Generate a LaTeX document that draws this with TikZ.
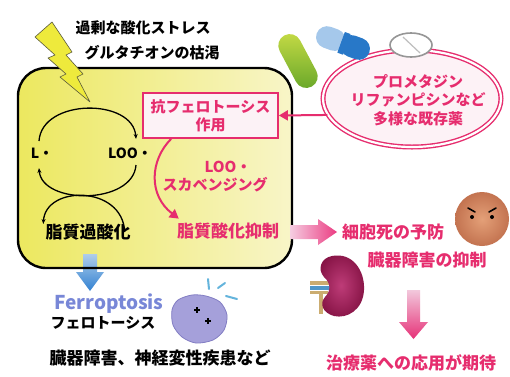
\documentclass[tikz,border=0pt]{standalone}
\usepackage{fontspec}
\newfontfamily\jp{Noto Sans CJK JP}
\usetikzlibrary{shapes.geometric,arrows.meta,calc}
\definecolor{pinkT}{RGB}{230,45,110}
\definecolor{boxL}{RGB}{236,232,95}
\definecolor{boxR}{RGB}{248,245,200}
\definecolor{ferro}{RGB}{120,135,215}
\definecolor{blueA}{RGB}{175,205,235}
\definecolor{blueB}{RGB}{50,130,210}
\definecolor{boltY}{RGB}{238,234,60}
\definecolor{boltD}{RGB}{90,90,60}
\definecolor{antiF}{RGB}{252,242,246}
\definecolor{drugF}{RGB}{253,242,246}
\definecolor{pillG1}{RGB}{200,220,70}
\definecolor{pillG2}{RGB}{100,165,40}
\definecolor{pillB1}{RGB}{165,200,235}
\definecolor{pillB2}{RGB}{40,120,200}
\definecolor{tabD}{RGB}{150,150,150}
\definecolor{tabL}{RGB}{190,190,190}
\definecolor{arrP1}{RGB}{245,205,225}
\definecolor{arrP2}{RGB}{235,60,130}
\definecolor{arrP3}{RGB}{242,200,220}
\definecolor{arrP4}{RGB}{230,50,120}
\definecolor{face1}{RGB}{228,160,120}
\definecolor{face2}{RGB}{195,115,80}
\definecolor{tan}{RGB}{203,172,112}
\definecolor{vein}{RGB}{80,150,200}
\definecolor{kid1}{RGB}{190,60,120}
\definecolor{kid2}{RGB}{135,20,70}
\definecolor{blobF}{RGB}{165,160,218}
\definecolor{blobD}{RGB}{130,125,195}
\definecolor{splash}{RGB}{100,180,220}
\tikzset{
  txt/.style={font=\jp\bfseries\fontsize{15}{18}\selectfont, inner sep=0pt, align=center},
  bigtxt/.style={txt, font=\jp\bfseries\fontsize{17}{20}\selectfont},
  ptxt/.style={txt, text=pinkT},
  pbig/.style={bigtxt, text=pinkT},
  radical/.style={txt, font=\jp\bfseries\fontsize{14}{16}\selectfont},
  cellfill/.style={rectangle, rounded corners=28pt, minimum width=274pt, minimum height=200pt,
    left color=boxL, right color=boxR},
  cellline/.style={rectangle, rounded corners=28pt, minimum width=274pt, minimum height=200pt,
    draw=black, line width=2.4pt},
  cyc/.style={line width=1.3pt, black},
  cyctip/.style={cyc, -{Stealth[length=5pt,width=4pt]}},
  pinkarrow/.style={line width=2pt, pinkT, -{Triangle[length=9pt,width=10pt]}},
}
\begin{document}
\begin{tikzpicture}[x=1pt,y=-1pt]
\useasboundingbox (0,0) rectangle (510,376);
\fill[white] (0,0) rectangle (510,376);

% the cell
\node[cellfill] (cellbg) at (155,168) {};
% blue arrow leaving the cell
\path[top color=blueA, bottom color=blueB]
  (83,254) -- (97,254) -- (97,272) -- (104,272) -- (90,291) -- (76,272) -- (83,272) -- cycle;
\node[cellline] (cell) at (155,168) {};

% lightning bolt
\filldraw[fill=boltY, draw=boltD, line width=0.6pt, line join=round]
  (52,22) -- (72,52) -- (66,55) -- (83,74) -- (77,77) -- (90,102) -- (60,77) -- (66,74) -- (48,58) -- (55,55) -- (35,37) -- cycle;

\node[txt] (stress) at (143,28) {過剰な酸化ストレス};
\node[txt] (gsh) at (152,53) {グルタチオンの枯渇};

% radical cycle
\node[radical] (L) at (42,153) {L・};
\node[radical] (LOO) at (130,153) {LOO・};
\draw[cyctip] ($(L)+(-3,-12)$) .. controls ($(L)+(0,-55)$) and ($(LOO)+(3,-55)$) .. ($(LOO)+(6,-14)$);
\draw[cyctip] ($(LOO)+(6,12)$) .. controls ($(LOO)+(3,52)$) and ($(L)+(0,52)$) .. ($(L)+(-3,15)$);
\node[bigtxt] (perox) at (88,232) {脂質過酸化};
\draw[cyctip] ($(perox.east)+(-6,0)$) .. controls ($(perox.east)+(-8,-47)$) and ($(perox.west)+(0,-47)$) .. ($(perox.west)+(-2,-8)$);

% anti-ferroptosis box
\node[ptxt, draw=pinkT, line width=1.8pt, fill=antiF,
      minimum width=135pt, minimum height=45pt] (anti) at (210.5,115.5) {抗フェロトーシス\\作用};
\node[ptxt] (loo) at (228,167) {LOO・};
\node[ptxt] (scav) at (215,185) {スカベンジング};
\node[pbig] (inhib) at (228,231) {脂質酸化抑制};
\draw[pinkarrow] ($(anti.south west)+(29,0)$) .. controls (150,160) and (148,195) .. ($(inhib.north west)+(2,-4)$);

% drugs
\node[ellipse, draw=pinkT, double=white, double distance=2.2pt, line width=1.4pt,
      fill=drugF, minimum width=178pt, minimum height=97pt] (drugs) at (412,98.5) {};
\node[ptxt, font=\jp\bfseries\fontsize{15}{18.5}\selectfont] (druglist) at (418,100) {プロメタジン\\リファンピシンなど\\多様な既存薬};
\draw[pinkarrow] (drugs.191) -- (anti.east);

% capsules and tablet
\begin{scope}[shift={(298,61)}, rotate=-62]
  \path[top color=pillG1, bottom color=pillG2, rounded corners=11.5pt]
    (-29,-11.5) rectangle (29,11.5);
\end{scope}
\begin{scope}[shift={(343,43)}, rotate=-20]
  \path[fill=pillB1, rounded corners=11pt] (-28,-11) rectangle (2,11);
  \path[fill=pillB2, rounded corners=11pt] (-2,-11) rectangle (28,11);
  \path[fill=pillB2] (-2,-11) rectangle (4,11);
\end{scope}
\node[ellipse, draw=tabD, line width=1.6pt, fill=white,
      minimum width=42pt, minimum height=24pt, inner sep=0pt] (tablet) at (411,45) {};
\draw[tabL, line width=1.2pt] ($(tablet.center)+(-8,-8)$) -- ($(tablet.center)+(9,8)$);

% outcome arrow and texts
\path[left color=arrP1, right color=arrP2]
  (290,225) -- (318,225) -- (318,219) -- (337,232) -- (318,245) -- (318,239) -- (290,239) -- cycle;
\node[pbig] (death) at (393,232) {細胞死の予防};
\node[pbig] (organ) at (427,260) {臓器障害の抑制};
\path[top color=arrP3, bottom color=arrP4]
  (407,290) -- (420,290) -- (420,322) -- (428,322) -- (413.5,339) -- (399,322) -- (407,322) -- cycle;
\node[pbig] (therapy) at (411,363) {治療薬への応用が期待};

% angry face
\node[circle, minimum size=54pt, inner sep=0pt,
      inner color=face1, outer color=face2] (face) at (482,219) {};
\draw[line width=1.6pt, line cap=round] ($(face)+(-14,-11)$) -- ($(face)+(-7,-7)$);
\draw[line width=1.6pt, line cap=round] ($(face)+(14,-11)$) -- ($(face)+(7,-7)$);
\fill ($(face)+(-10,-2)$) circle (2pt);
\fill ($(face)+(10,-2)$) circle (2pt);

% kidney
\fill[tan] (319,292) rectangle (323,314);
\fill[tan] (310,281) rectangle (330,285);
\fill[vein] (310,285.5) rectangle (330,290);
\fill[tan] (310,290.5) rectangle (328,294);
\path[inner color=kid1, outer color=kid2]
  (332,256) .. controls (352,252) and (365,270) .. (364,290)
  .. controls (363,310) and (347,319) .. (334,316)
  .. controls (323,313) and (319,304) .. (325,297)
  .. controls (331,291) and (331,283) .. (324,277)
  .. controls (317,269) and (321,258) .. (332,256) -- cycle;

% ferroptosis
\node[txt, text=ferro, font=\jp\bfseries\fontsize{19}{21}\selectfont] (ferroEN) at (109,304) {Ferroptosis};
\node[txt] (ferroJP) at (103,323) {フェロトーシス};
\node[bigtxt] (disease) at (160,358) {臓器障害、神経変性疾患など};
\filldraw[fill=blobF, draw=blobD, line width=0.8pt]
  plot[smooth cycle] coordinates {(178,300) (192,295) (206,296) (220,302) (227,315) (224,330) (213,340) (196,343) (182,337) (173,325) (172,310)};
\draw[line width=1.4pt] (194,310) -- (200,310) (197,307) -- (197,313);
\draw[line width=1.4pt] (205,321) -- (211,321) (208,318) -- (208,324);
\draw[splash, line width=2pt, line cap=round]
  (208,279) -- (209,289) (218,288) -- (225,283) (226,296) -- (237,299);
\end{tikzpicture}
\end{document}
